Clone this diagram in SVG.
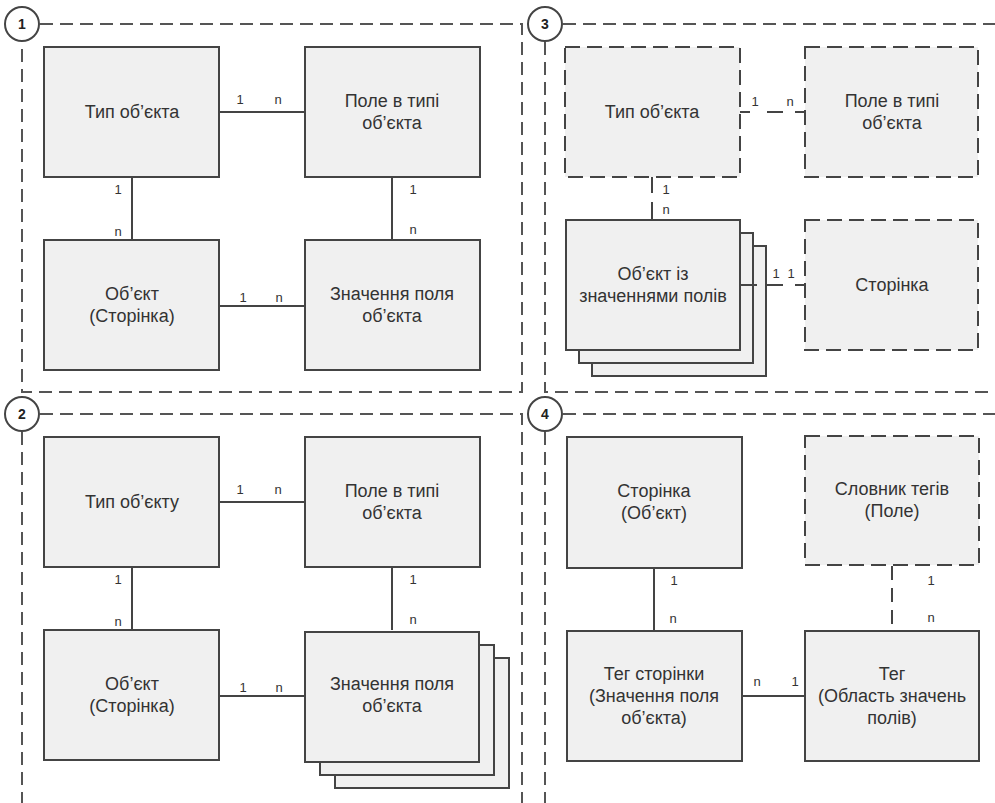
<svg xmlns="http://www.w3.org/2000/svg" width="995" height="803" viewBox="0 0 995 803">
<style>
.frame{fill:none;stroke:#555;stroke-width:2;stroke-dasharray:13 7}
.box{fill:#f0f0f0;stroke:#444;stroke-width:2}
.dbox{fill:#f0f0f0;stroke:#444;stroke-width:2;stroke-dasharray:15 7}
.ln{fill:none;stroke:#444;stroke-width:2}
.dln{fill:none;stroke:#444;stroke-width:2;stroke-dasharray:14 8}
.t{font-family:"Liberation Sans",Arial,sans-serif;font-size:18px;fill:#333;text-anchor:middle}
.lb{font-family:"Liberation Sans",Arial,sans-serif;font-size:13px;fill:#333;text-anchor:middle}
.num{font-family:"Liberation Sans",Arial,sans-serif;font-size:14px;font-weight:bold;fill:#222;text-anchor:middle}
.circ{fill:#fff;stroke:#444;stroke-width:2}
</style>
<rect width="995" height="803" fill="#fff"/>
<g id="frames">
<path class="frame" d="M40,24 H522 V392 H22 V42"/>
<path class="frame" d="M40,414 H522 V803 M22,432 V803"/>
<path class="frame" d="M563,24 H995 M545,42 V392 H995"/>
<path class="frame" d="M563,414 H995 M545,432 V803"/>
</g>
<g id="connectors">
<path class="ln" d="M219,112 H305 M132,177 V240 M392,177 V240 M219,306 H305"/>
<path class="ln" d="M219,502 H305 M132,567 V630 M392,567 V630 M219,696 H305"/>
<path class="ln" d="M740,112 H750 M767,112 H783 M795,112 H805"/>
<path class="ln" d="M652,177 V193 M652,202 V220"/>
<path class="ln" d="M766,285 H783 M795,285 H805"/>
<path class="ln" d="M654,568 V631 M742,696 H805"/>
<path class="dln" d="M892,566 V631"/>
<g class="lb">
<text x="240" y="104">1</text><text x="278" y="104">n</text>
<text x="118" y="194">1</text><text x="118" y="236">n</text>
<text x="413" y="194">1</text><text x="413" y="234">n</text>
<text x="243" y="302">1</text><text x="279" y="302">n</text>
<text x="240" y="494">1</text><text x="278" y="494">n</text>
<text x="118" y="584">1</text><text x="118" y="626">n</text>
<text x="413" y="584">1</text><text x="413" y="624">n</text>
<text x="243" y="692">1</text><text x="279" y="692">n</text>
<text x="755" y="106">1</text><text x="790" y="106">n</text>
<text x="666" y="194">1</text><text x="666" y="214">n</text>
<text x="776" y="278">1</text><text x="791" y="278">1</text>
<text x="674" y="585">1</text><text x="673" y="623">n</text>
<text x="757" y="686">n</text><text x="795" y="686">1</text>
<text x="931" y="585">1</text><text x="931" y="622">n</text>
</g>
</g>
<g id="q1-typ"><rect class="box" x="44" y="47" width="175" height="130"/><text class="t" x="132" y="118">Тип об’єкта</text></g>
<g id="q1-pole"><rect class="box" x="305" y="47" width="175" height="130"/><text class="t" x="392" y="107">Поле в типі</text><text class="t" x="392" y="129">об’єкта</text></g>
<g id="q1-obj"><rect class="box" x="44" y="240" width="175" height="130"/><text class="t" x="132" y="300">Об’єкт</text><text class="t" x="132" y="322">(Сторінка)</text></g>
<g id="q1-val"><rect class="box" x="305" y="240" width="175" height="130"/><text class="t" x="392" y="300">Значення поля</text><text class="t" x="392" y="322">об’єкта</text></g>
<g id="q2-typ"><rect class="box" x="44" y="437" width="175" height="130"/><text class="t" x="132" y="508">Тип об’єкту</text></g>
<g id="q2-pole"><rect class="box" x="305" y="437" width="175" height="130"/><text class="t" x="392" y="497">Поле в типі</text><text class="t" x="392" y="519">об’єкта</text></g>
<g id="q2-obj"><rect class="box" x="44" y="630" width="175" height="130"/><text class="t" x="132" y="690">Об’єкт</text><text class="t" x="132" y="712">(Сторінка)</text></g>
<g id="q2-val"><rect class="box" x="335" y="658" width="174" height="130"/><rect class="box" x="320" y="645" width="174" height="130"/><rect class="box" x="305" y="632" width="174" height="130"/><text class="t" x="392" y="690">Значення поля</text><text class="t" x="392" y="712">об’єкта</text></g>
<g id="q3-typ"><rect class="dbox" x="565" y="47" width="175" height="130"/><text class="t" x="652" y="118">Тип об’єкта</text></g>
<g id="q3-pole"><rect class="dbox" x="805" y="47" width="173" height="130"/><text class="t" x="892" y="107">Поле в типі</text><text class="t" x="892" y="129">об’єкта</text></g>
<g id="q3-obj"><rect class="box" x="592" y="246" width="174" height="130"/><rect class="box" x="579" y="233" width="174" height="130"/><rect class="box" x="566" y="220" width="174" height="130"/><text class="t" x="653" y="280">Об’єкт із</text><text class="t" x="653" y="302">значеннями полів</text><path class="ln" d="M740,285 H757"/></g>
<g id="q3-page"><rect class="dbox" x="805" y="220" width="173" height="130"/><text class="t" x="892" y="291">Сторінка</text></g>
<g id="q4-page"><rect class="box" x="567" y="437" width="175" height="131"/><text class="t" x="654" y="497">Сторінка</text><text class="t" x="654" y="519">(Об’єкт)</text></g>
<g id="q4-dict"><rect class="dbox" x="805" y="436" width="174" height="129"/><text class="t" x="892" y="495">Словник тегів</text><text class="t" x="892" y="517">(Поле)</text></g>
<g id="q4-pagetag"><rect class="box" x="567" y="631" width="175" height="130"/><text class="t" x="654" y="680">Тег сторінки</text><text class="t" x="654" y="702">(Значення поля</text><text class="t" x="654" y="724">об’єкта)</text></g>
<g id="q4-tag"><rect class="box" x="805" y="631" width="174" height="130"/><text class="t" x="892" y="680">Тег</text><text class="t" x="892" y="702">(Область значень</text><text class="t" x="892" y="724">полів)</text></g>
<g id="badges">
<circle class="circ" cx="22" cy="24" r="17"/><text class="num" x="22" y="29">1</text>
<circle class="circ" cx="22" cy="414" r="17"/><text class="num" x="22" y="419">2</text>
<circle class="circ" cx="545" cy="24" r="17"/><text class="num" x="545" y="29">3</text>
<circle class="circ" cx="545" cy="414" r="17"/><text class="num" x="545" y="419">4</text>
</g>
</svg>
